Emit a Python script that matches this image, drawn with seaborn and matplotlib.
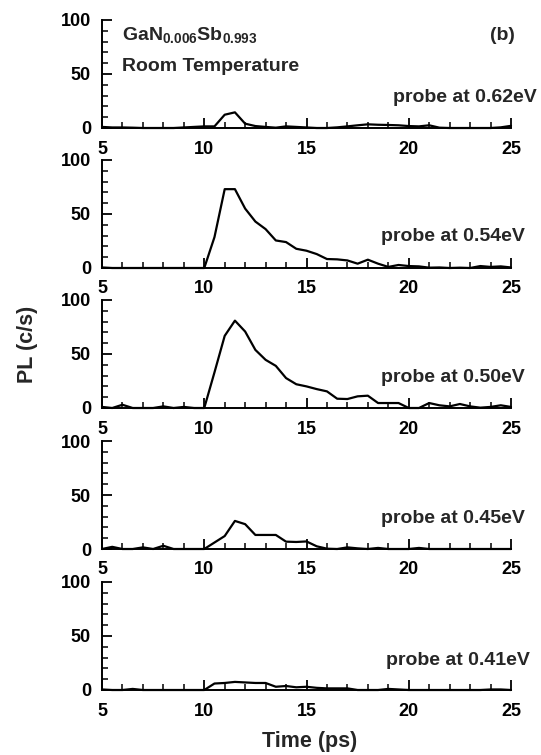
import numpy as np
import pandas as pd
import matplotlib
matplotlib.use("Agg")
import matplotlib.pyplot as plt
import seaborn as sns
from matplotlib.ticker import MultipleLocator

sns.set_style("white")
plt.rcParams['font.family'] = ['Liberation Sans', 'DejaVu Sans']
plt.rcParams['font.weight'] = 'bold'
plt.rcParams['mathtext.fontset'] = 'custom'
plt.rcParams['mathtext.rm'] = 'Liberation Sans:bold'
plt.rcParams['mathtext.bf'] = 'Liberation Sans:bold'
plt.rcParams['mathtext.default'] = 'bf'

times = [5.0, 5.5, 6.0, 6.5, 7.0, 7.5, 8.0, 8.5, 9.0, 9.5, 10.0,
         10.5, 11.0, 11.5, 12.0, 12.5, 13.0, 13.5, 14.0, 14.5, 15.0,
         15.5, 16.0, 16.5, 17.0, 17.5, 18.0, 18.5, 19.0, 19.5, 20.0,
         20.5, 21.0, 21.5, 22.0, 22.5, 23.0, 23.5, 24.0, 24.5, 25.0]

pl_062 = [1, 0.5, 0.5, 0.3, 0, 0, 0, 0, 0.5, 1, 1.5,
          1.5, 12.3, 14.5, 4, 1.8, 1, 0.3, 1.5, 1, 0.5,
          0, 0, 0.6, 1.5, 2.5, 3.4, 3, 2.8, 2.5, 1.8,
          1.5, 2.5, 0.3, 0, 0, 0, 0, 0, 0.6, 2]
pl_054 = [0.5, 0, 0, 0, 0, 0, 0, 0, 0, 0, 0,
          28.6, 73, 73, 55, 43, 36, 25.5, 24, 17.8, 16,
          12.9, 8.3, 8, 7, 4, 7.7, 4, 1, 2.8, 1.8,
          1.5, 0.3, 0.5, 0, 0.3, 0, 1.8, 1, 1.5, 0.5]
pl_050 = [1, 0, 3, 0, 0, 0, 1.5, 0, 1, 0, 0,
          33, 66.8, 80.9, 70.8, 53.8, 44.6, 39, 27.7, 22, 20,
          17.5, 15.4, 8.6, 8.3, 10.8, 11.4, 4.6, 4.6, 4.6, 0,
          0, 4.6, 2.5, 1.5, 3.7, 1.5, 0.3, 1, 2.5, 1]
pl_045 = [0, 2, 0, 0, 1.5, 0, 3, 0, 0, 0, 0,
          6, 12, 26, 23, 13, 13, 13, 6.8, 6.5, 7,
          2.5, 0.3, 0, 1.5, 0.6, 0, 1, 0, 0, 0,
          1, 0, 0, 0, 0, 0, 0, 0, 0, 0]
pl_041 = [0.5, 0, 0, 1, 0, 0, 0, 0, 0, 0, 0,
          6, 6.5, 7.5, 7, 6.5, 6.5, 3, 3.7, 2.5, 3,
          2, 1.5, 1.5, 1.5, 0, 0, 0, 1, 0.5, 0,
          0, 0, 0, 0, 0, 0, 0, 0.5, 0.5, 0]

series = [pl_062, pl_054, pl_050, pl_045, pl_041]
labels = ["probe at 0.62eV", "probe at 0.54eV", "probe at 0.50eV",
          "probe at 0.45eV", "probe at 0.41eV"]
label_x = [26.27, 25.68, 25.68, 25.68, 25.93]
label_y = [28.7, 29.6, 28.7, 28.7, 27.0]

W, H = 541, 755
fig = plt.figure(figsize=(W / 100, H / 100), dpi=100)
fig.patch.set_facecolor("white")

left_px, right_px = 102, 511
tops = [20, 160, 300, 441, 582]
height_px = 108

for i, (vals, lab) in enumerate(zip(series, labels)):
    top = tops[i]
    ax = fig.add_axes([left_px / W, 1 - (top + height_px) / H,
                       (right_px - left_px) / W, height_px / H])
    ax.set_facecolor("none")
    df = pd.DataFrame({"Time": times, "PL": vals})
    sns.lineplot(data=df, x="Time", y="PL", ax=ax, color="black",
                 linewidth=1.6, clip_on=False)
    ax.set_xlim(5, 25)
    ax.set_ylim(0, 100)
    ax.set_xlabel("")
    ax.set_ylabel("")
    for s in ["top", "right"]:
        ax.spines[s].set_visible(False)
    for s in ["left", "bottom"]:
        ax.spines[s].set_color("black")
        ax.spines[s].set_linewidth(1.4)
    ax.xaxis.set_major_locator(MultipleLocator(5))
    ax.xaxis.set_minor_locator(MultipleLocator(1))
    ax.yaxis.set_major_locator(MultipleLocator(50))
    ax.yaxis.set_minor_locator(MultipleLocator(10))
    ax.tick_params(axis="both", which="major", direction="in", length=7,
                   width=1.3, colors="black", labelsize=13)
    ax.tick_params(axis="both", which="minor", direction="in", length=4,
                   width=1.1, colors="black")
    ax.tick_params(axis="x", which="major", pad=9)
    ax.tick_params(axis="y", which="major", pad=8)
    ax.tick_params(bottom=True, left=True, which="both")
    for t in ax.get_xticklabels() + ax.get_yticklabels():
        t.set_fontweight("bold")
    ax.text(label_x[i], label_y[i], lab, ha="right", va="center",
            fontsize=14, fontweight="bold", clip_on=False)
    if i == 0:
        ax.text(5.98, 86, r"GaN$_{0.006}$Sb$_{0.993}$", ha="left",
                va="center", fontsize=14, fontweight="bold")
        ax.text(5.98, 56.5, "Room Temperature", ha="left", va="center",
                fontsize=14, fontweight="bold")
        ax.text(25.2, 86, "(b)", ha="right", va="center", fontsize=14,
                fontweight="bold", clip_on=False)

fig.text(27 / W, 1 - 344 / H, "PL (c/s)", rotation=90, ha="center",
         va="center", fontsize=15.5, fontweight="bold")
fig.text(310 / W, 1 - 741 / H, "Time (ps)", ha="center", va="center",
         fontsize=15.5, fontweight="bold")

fig.savefig("out.png", dpi=100, facecolor="white")
